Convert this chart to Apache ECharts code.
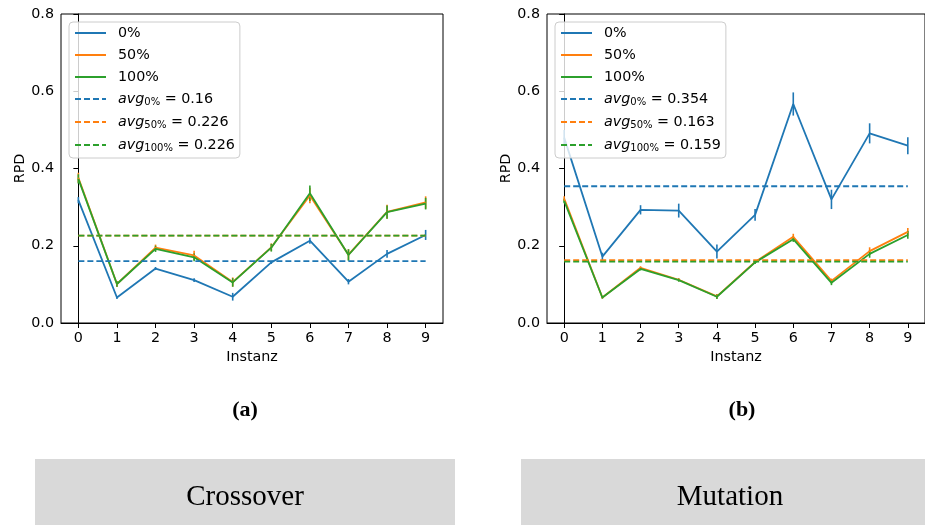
<!DOCTYPE html>
<html>
<head>
<meta charset="utf-8">
<script src="https://cdn.jsdelivr.net/npm/echarts@6/dist/echarts.min.js"></script>
<style>
  html, body { margin: 0; padding: 0; background: #fff; }
  #chart { width: 925px; height: 525px; }
</style>
</head>
<body>
<div id="chart"></div>
<script>
// Instanzen auf der x-Achse
const instances = [0, 1, 2, 3, 4, 5, 6, 7, 8, 9];
const xTickLabels = ['0', '1', '2', '3', '4', '5', '6', '7', '8', '9'];
const seriesLabels = ['0%', '50%', '100%'];

// (a) Crossover
const crossover0 = [0.318, 0.066, 0.141, 0.111, 0.068, 0.157, 0.213, 0.107, 0.179, 0.228];
const crossover50 = [0.376, 0.101, 0.195, 0.175, 0.106, 0.196, 0.330, 0.177, 0.288, 0.312];
const crossover100 = [0.373, 0.101, 0.192, 0.170, 0.105, 0.195, 0.336, 0.176, 0.287, 0.309];
const crossoverErr0 = [0.008, 0.004, 0.004, 0.005, 0.010, 0.004, 0.008, 0.007, 0.010, 0.013];
const crossoverErr50 = [0.013, 0.008, 0.008, 0.012, 0.012, 0.010, 0.020, 0.014, 0.018, 0.016];
const crossoverErr100 = [0.012, 0.007, 0.008, 0.010, 0.011, 0.010, 0.020, 0.015, 0.017, 0.015];
const crossoverAvg = [0.16, 0.226, 0.226];

// (b) Mutation
const mutation0 = [0.480, 0.172, 0.293, 0.291, 0.185, 0.280, 0.567, 0.320, 0.491, 0.459];
const mutation50 = [0.322, 0.066, 0.143, 0.112, 0.069, 0.158, 0.223, 0.109, 0.186, 0.236];
const mutation100 = [0.316, 0.066, 0.140, 0.111, 0.068, 0.157, 0.217, 0.104, 0.179, 0.228];
const mutationErr0 = [0.020, 0.010, 0.012, 0.018, 0.018, 0.015, 0.030, 0.025, 0.026, 0.022];
const mutationErr50 = [0.006, 0.003, 0.004, 0.004, 0.006, 0.004, 0.008, 0.006, 0.010, 0.010];
const mutationErr100 = [0.006, 0.003, 0.004, 0.004, 0.006, 0.004, 0.007, 0.006, 0.010, 0.010];
const mutationAvg = [0.354, 0.163, 0.159];

const colors = ['#1f77b4', '#ff7f0e', '#2ca02c'];
const FONT = 'DejaVu Sans';
const FS = 14.3;

function errSeries(idx, vals, errs, color) {
  return {
    type: 'custom',
    xAxisIndex: idx, yAxisIndex: idx,
    silent: true,
    data: vals.map((v, i) => [instances[i], v, errs[i]]),
    encode: { x: 0, y: 1 },
    renderItem: function (params, api) {
      const x = api.value(0), y = api.value(1), e = api.value(2);
      const p1 = api.coord([x, y - e]);
      const p2 = api.coord([x, y + e]);
      return {
        type: 'line',
        shape: { x1: p1[0], y1: p1[1], x2: p2[0], y2: p2[1] },
        style: { stroke: color, lineWidth: 1.6 }
      };
    }
  };
}

function lineSeries(idx, name, vals, color) {
  return {
    type: 'line', name: name,
    xAxisIndex: idx, yAxisIndex: idx,
    data: vals.map((v, i) => [instances[i], v]),
    symbol: 'none',
    lineStyle: { color: color, width: 1.8 },
    itemStyle: { color: color }
  };
}

function avgSeries(idx, label, avg, color) {
  return {
    type: 'line', name: 'avg|' + label + '|' + avg,
    xAxisIndex: idx, yAxisIndex: idx,
    data: [[instances[0], avg], [instances[instances.length - 1], avg]],
    symbol: 'none',
    lineStyle: { color: color, width: 1.8, type: [6, 3] },
    itemStyle: { color: color }
  };
}

function buildSeries(idx, vals, errs, avgs) {
  const out = [];
  for (let k = 0; k < 3; k++) {
    out.push(errSeries(idx, vals[k], errs[k], colors[k]));
    out.push(lineSeries(idx, seriesLabels[k], vals[k], colors[k]));
  }
  for (let k = 0; k < 3; k++) {
    out.push(avgSeries(idx, seriesLabels[k], avgs[k], colors[k]));
  }
  return out;
}

function legendFor(left, avgs) {
  const names = seriesLabels.slice();
  for (let k = 0; k < 3; k++) names.push('avg|' + seriesLabels[k] + '|' + avgs[k]);
  return {
    orient: 'vertical',
    left: left, top: 22,
    data: names,
    padding: [4, 5, 5, 5],
    itemWidth: 31, itemHeight: 14, itemGap: 8,
    itemStyle: { opacity: 0 },
    backgroundColor: 'rgba(255,255,255,0.8)',
    borderColor: '#cccccc', borderWidth: 1, borderRadius: 4,
    selectedMode: false,
    formatter: function (name) {
      if (name.indexOf('avg|') === 0) {
        const parts = name.split('|');
        return '{it|avg}{sub|' + parts[1] + '}{n| = ' + parts[2] + '}';
      }
      return '{n|' + name + '}';
    },
    textStyle: {
      fontFamily: FONT, fontSize: FS, color: '#000', padding: [0, 0, 0, 7],
      rich: {
        n: { fontFamily: FONT, fontSize: FS, color: '#000', lineHeight: 16 },
        it: { fontFamily: FONT, fontSize: FS, fontStyle: 'italic', color: '#000', lineHeight: 16 },
        sub: { fontFamily: FONT, fontSize: 10, color: '#000', lineHeight: 6, verticalAlign: 'bottom' }
      }
    }
  };
}

function xAxisFor(idx) {
  return {
    type: 'value', gridIndex: idx,
    min: -0.45, max: 9.45,
    name: 'Instanz', nameLocation: 'middle', nameGap: 27,
    nameTextStyle: { fontFamily: FONT, fontSize: FS, color: '#000' },
    axisLine: { show: true, onZero: false, lineStyle: { color: '#000', width: 1 } },
    axisTick: { show: true, customValues: instances, length: 5, lineStyle: { color: '#000' } },
    axisLabel: {
      customValues: instances, margin: 8,
      fontFamily: FONT, fontSize: FS, color: '#000',
      formatter: v => xTickLabels[instances.indexOf(v)]
    },
    splitLine: { show: false }
  };
}

function yAxisFor(idx) {
  return {
    type: 'value', gridIndex: idx,
    min: 0, max: 0.8, interval: 0.2,
    name: 'RPD', nameLocation: 'middle', nameGap: 34,
    nameTextStyle: { fontFamily: FONT, fontSize: FS, color: '#000' },
    axisLine: { show: true, lineStyle: { color: '#000', width: 1 } },
    axisTick: { show: true, length: 5, lineStyle: { color: '#000' } },
    axisLabel: {
      margin: 7, fontFamily: FONT, fontSize: FS, color: '#000',
      formatter: v => v.toFixed(1)
    },
    splitLine: { show: false }
  };
}

const chart = echarts.init(document.getElementById('chart'), null, { renderer: 'canvas' });

const option = {
  animation: false,
  backgroundColor: '#fff',
  grid: [
    { left: 61, top: 14, width: 382, height: 309, show: true, borderColor: '#000', borderWidth: 1, backgroundColor: 'transparent' },
    { left: 547, top: 14, width: 382, height: 309, show: true, borderColor: '#000', borderWidth: 1, backgroundColor: 'transparent' }
  ],
  xAxis: [xAxisFor(0), xAxisFor(1)],
  yAxis: [yAxisFor(0), yAxisFor(1)],
  legend: [legendFor(69, crossoverAvg), legendFor(555, mutationAvg)],
  series: [].concat(
    buildSeries(0, [crossover0, crossover50, crossover100], [crossoverErr0, crossoverErr50, crossoverErr100], crossoverAvg),
    buildSeries(1, [mutation0, mutation50, mutation100], [mutationErr0, mutationErr50, mutationErr100], mutationAvg)
  ),
  graphic: [
    { type: 'text', x: 245, y: 410, style: { text: '(a)', fontFamily: 'Liberation Serif', fontWeight: 'bold', fontSize: 22, fill: '#000', textAlign: 'center', textVerticalAlign: 'middle' } },
    { type: 'text', x: 742, y: 410, style: { text: '(b)', fontFamily: 'Liberation Serif', fontWeight: 'bold', fontSize: 22, fill: '#000', textAlign: 'center', textVerticalAlign: 'middle' } },
    { type: 'rect', shape: { x: 35, y: 459, width: 420, height: 70 }, style: { fill: '#d9d9d9' } },
    { type: 'rect', shape: { x: 521, y: 459, width: 410, height: 70 }, style: { fill: '#d9d9d9' } },
    { type: 'text', x: 245, y: 497, style: { text: 'Crossover', fontFamily: 'Liberation Serif', fontSize: 29, fill: '#000', textAlign: 'center', textVerticalAlign: 'middle' } },
    { type: 'text', x: 730, y: 497, style: { text: 'Mutation', fontFamily: 'Liberation Serif', fontSize: 29, fill: '#000', textAlign: 'center', textVerticalAlign: 'middle' } }
  ]
};

chart.setOption(option);
</script>
</body>
</html>
